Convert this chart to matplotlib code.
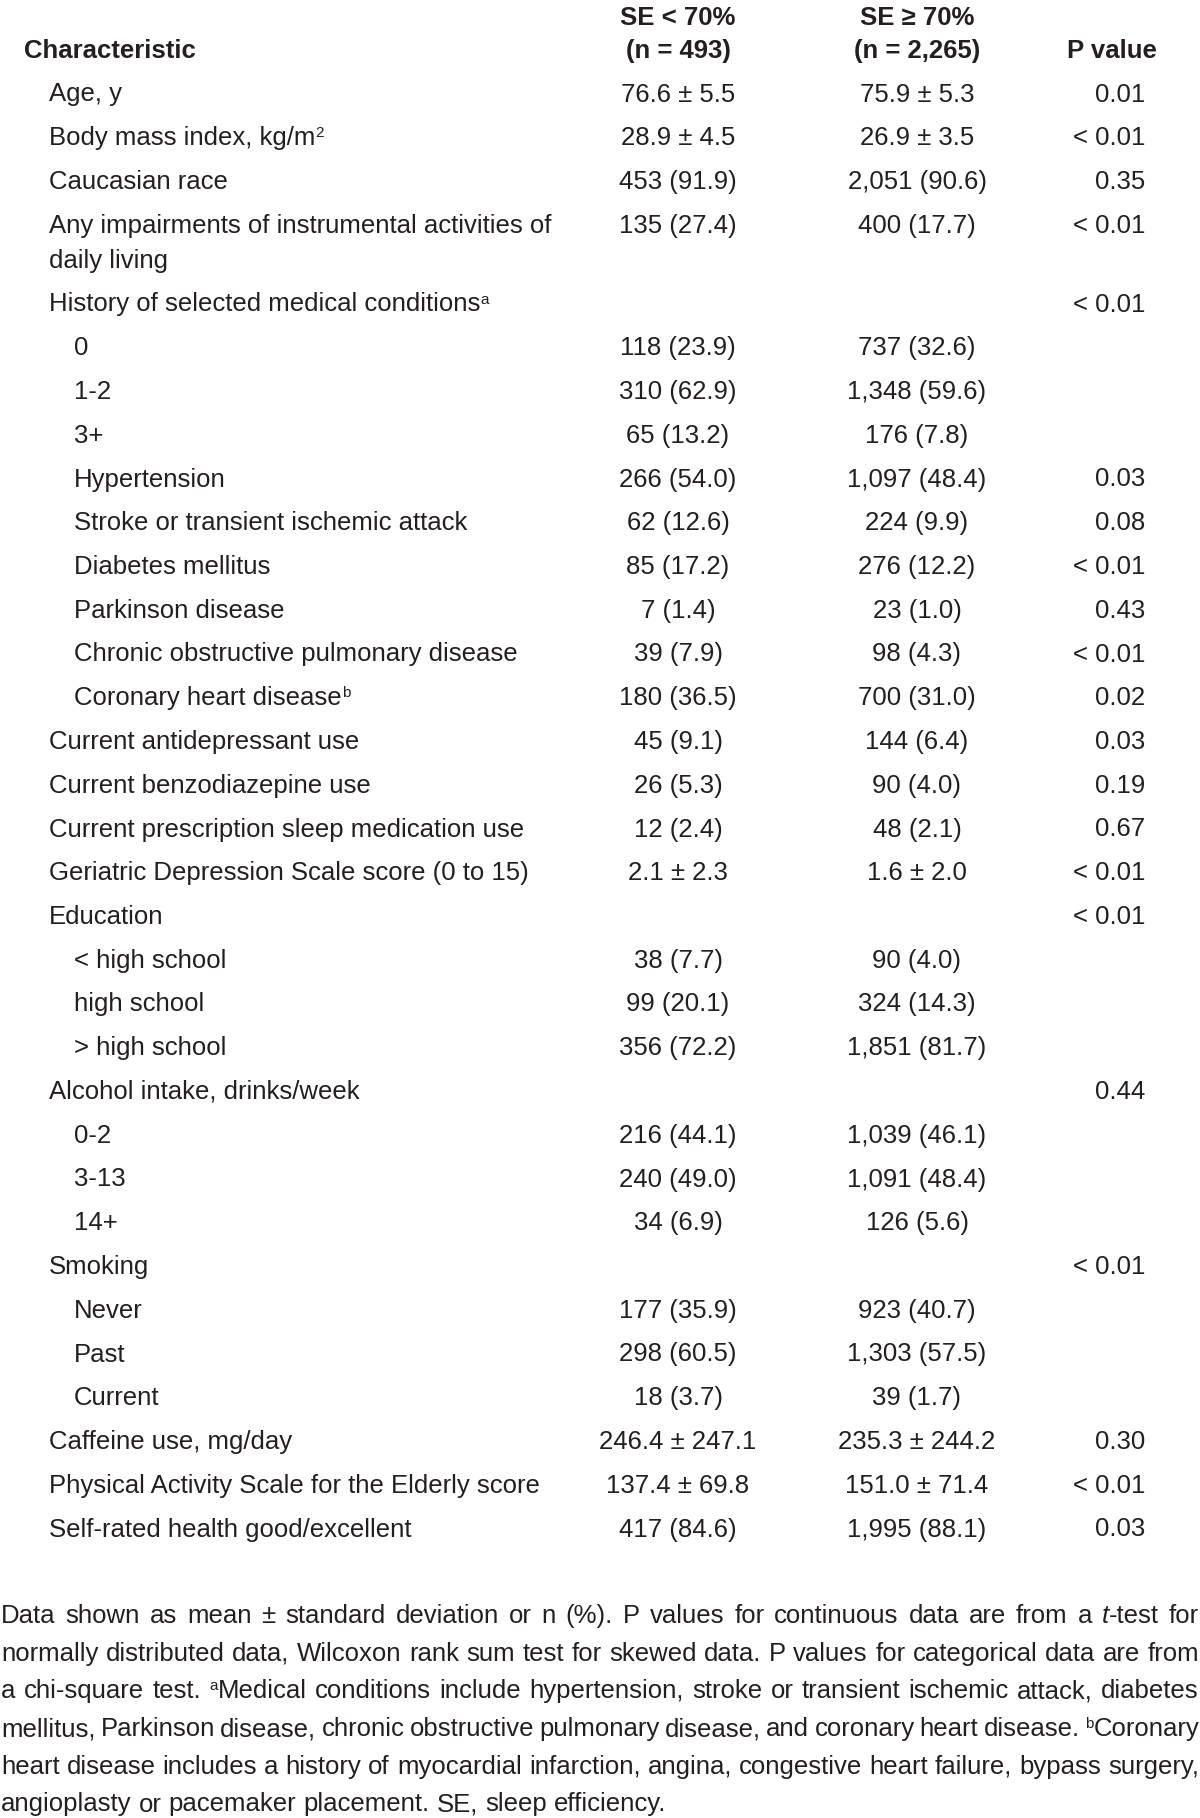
import matplotlib
matplotlib.use("Agg")
import matplotlib.pyplot as plt

plt.rcParams['font.family'] = ['Liberation Sans', 'DejaVu Sans']

# Table content ("^a" marks a superscript at the end of a label)
labels = [
    "Age, y",
    "Body mass index, kg/m^2",
    "Caucasian race",
    "Any impairments of instrumental activities of\ndaily living",
    "History of selected medical conditions^a",
    "0",
    "1-2",
    "3+",
    "Hypertension",
    "Stroke or transient ischemic attack",
    "Diabetes mellitus",
    "Parkinson disease",
    "Chronic obstructive pulmonary disease",
    "Coronary heart disease^b",
    "Current antidepressant use",
    "Current benzodiazepine use",
    "Current prescription sleep medication use",
    "Geriatric Depression Scale score (0 to 15)",
    "Education",
    "< high school",
    "high school",
    "> high school",
    "Alcohol intake, drinks/week",
    "0-2",
    "3-13",
    "14+",
    "Smoking",
    "Never",
    "Past",
    "Current",
    "Caffeine use, mg/day",
    "Physical Activity Scale for the Elderly score",
    "Self-rated health good/excellent",
]
levels = [1, 1, 1, 1, 1, 2, 2, 2, 2, 2, 2, 2, 2, 2, 1, 1, 1, 1, 1, 2, 2, 2,
          1, 2, 2, 2, 1, 2, 2, 2, 1, 1, 1]
se_low = [
    "76.6 ± 5.5", "28.9 ± 4.5", "453 (91.9)", "135 (27.4)", "",
    "118 (23.9)", "310 (62.9)", "65 (13.2)", "266 (54.0)", "62 (12.6)",
    "85 (17.2)", "7 (1.4)", "39 (7.9)", "180 (36.5)", "45 (9.1)",
    "26 (5.3)", "12 (2.4)", "2.1 ± 2.3", "", "38 (7.7)", "99 (20.1)",
    "356 (72.2)", "", "216 (44.1)", "240 (49.0)", "34 (6.9)", "",
    "177 (35.9)", "298 (60.5)", "18 (3.7)", "246.4 ± 247.1",
    "137.4 ± 69.8", "417 (84.6)",
]
se_high = [
    "75.9 ± 5.3", "26.9 ± 3.5", "2,051 (90.6)", "400 (17.7)", "",
    "737 (32.6)", "1,348 (59.6)", "176 (7.8)", "1,097 (48.4)", "224 (9.9)",
    "276 (12.2)", "23 (1.0)", "98 (4.3)", "700 (31.0)", "144 (6.4)",
    "90 (4.0)", "48 (2.1)", "1.6 ± 2.0", "", "90 (4.0)", "324 (14.3)",
    "1,851 (81.7)", "", "1,039 (46.1)", "1,091 (48.4)", "126 (5.6)", "",
    "923 (40.7)", "1,303 (57.5)", "39 (1.7)", "235.3 ± 244.2",
    "151.0 ± 71.4", "1,995 (88.1)",
]
p_values = [
    "0.01", "< 0.01", "0.35", "< 0.01", "< 0.01", "", "", "", "0.03",
    "0.08", "< 0.01", "0.43", "< 0.01", "0.02", "0.03", "0.19", "0.67",
    "< 0.01", "< 0.01", "", "", "", "0.44", "", "", "", "< 0.01", "", "",
    "", "0.30", "< 0.01", "0.03",
]
headers = ["Characteristic", "SE < 70%\n(n = 493)", "SE ≥ 70%\n(n = 2,265)", "P value"]

# Footnote lines as broken in the original; {a} = superscript, *t* = italic
footnote = [
    "Data shown as mean ± standard deviation or n (%). P values for continuous data are from a *t*-test for",
    "normally distributed data, Wilcoxon rank sum test for skewed data. P values for categorical data are from",
    "a chi-square test. {a}Medical conditions include hypertension, stroke or transient ischemic attack, diabetes",
    "mellitus, Parkinson disease, chronic obstructive pulmonary disease, and coronary heart disease. {b}Coronary",
    "heart disease includes a history of myocardial infarction, angina, congestive heart failure, bypass surgery,",
    "angioplasty or pacemaker placement. SE, sleep efficiency.",
]

W, H = 1200, 1818
FS = 18.5
FS_SUP = 11
FS_NOTE = 18.5
TXT = "#231f20"

fig = plt.figure(figsize=(W / 100, H / 100), dpi=100)
ax = fig.add_axes([0, 0, 1, 1])
ax.set_xlim(0, W)
ax.set_ylim(H, 0)
ax.axis("off")
renderer = fig.canvas.get_renderer()

indent_x = {0: 24, 1: 49, 2: 74}
col1_x, col2_x, p_right = 678, 917, 1145
row_y0, row_pitch, wrap_extra = 101.5, 43.75, 35


def put(x, y, s, size=FS, **kw):
    t = ax.text(x, y, s, fontsize=size, color=TXT, va="baseline", **kw)
    return t


def width_of(t):
    return t.get_window_extent(renderer).width


# Header
put(indent_x[0], 58, headers[0], weight="bold")
for x, h in [(col1_x, headers[1]), (col2_x, headers[2])]:
    top, bottom = h.split("\n")
    put(x, 25, top, weight="bold", ha="center")
    put(x, 58, bottom, weight="bold", ha="center")
put(1112, 58, headers[3], weight="bold", ha="center")

# Body rows
y = row_y0
for lab, lev, a, b, p in zip(labels, levels, se_low, se_high, p_values):
    sup = None
    if "^" in lab:
        lab, sup = lab.split("^")
    lines = lab.split("\n")
    for k, line in enumerate(lines):
        t = put(indent_x[lev], y + k * wrap_extra, line)
    if sup:
        ext = t.get_window_extent(renderer)
        put(ext.x1, y - 8, sup, size=FS_SUP)
    put(col1_x, y, a, ha="center")
    put(col2_x, y, b, ha="center")
    put(p_right, y, p, ha="right")
    y += row_pitch + wrap_extra * (len(lines) - 1)


# Footnote, justified to the full width except the last line
def word_runs(word):
    runs = []
    while word:
        if word.startswith("{"):
            end = word.index("}")
            runs.append((word[1:end], "sup"))
            word = word[end + 1:]
        elif word.startswith("*"):
            end = word.index("*", 1)
            runs.append((word[1:end], "italic"))
            word = word[end + 1:]
        else:
            cut = min([i for i in (word.find("{"), word.find("*")) if i > 0] + [len(word)])
            runs.append((word[:cut], "normal"))
            word = word[cut:]
    return runs


def draw_word(x, y, word, dry=False):
    start = x
    for s, kind in word_runs(word):
        if kind == "sup":
            t = put(x, y - 8, s, size=FS_SUP)
        elif kind == "italic":
            t = put(x, y, s, size=FS_NOTE, style="italic")
        else:
            t = put(x, y, s, size=FS_NOTE)
        x += width_of(t)
        if dry:
            t.remove()
    return x - start


left, right = 1, 1199
note_y0, note_pitch = 1623, 37.7
space_w = None
for i, line in enumerate(footnote):
    yy = note_y0 + i * note_pitch
    words = line.split(" ")
    widths = [draw_word(0, -100, w, dry=True) for w in words]
    if space_w is None:
        t = put(0, -100, "a a", size=FS_NOTE)
        t2 = put(0, -100, "aa", size=FS_NOTE)
        space_w = width_of(t) - width_of(t2)
        t.remove()
        t2.remove()
    if i < len(footnote) - 1:
        gap = (right - left - sum(widths)) / (len(words) - 1)
    else:
        gap = space_w
    x = left
    for w, wd in zip(words, widths):
        draw_word(x, yy, w)
        x += wd + gap

fig.savefig("out.png", dpi=100, facecolor="white")
